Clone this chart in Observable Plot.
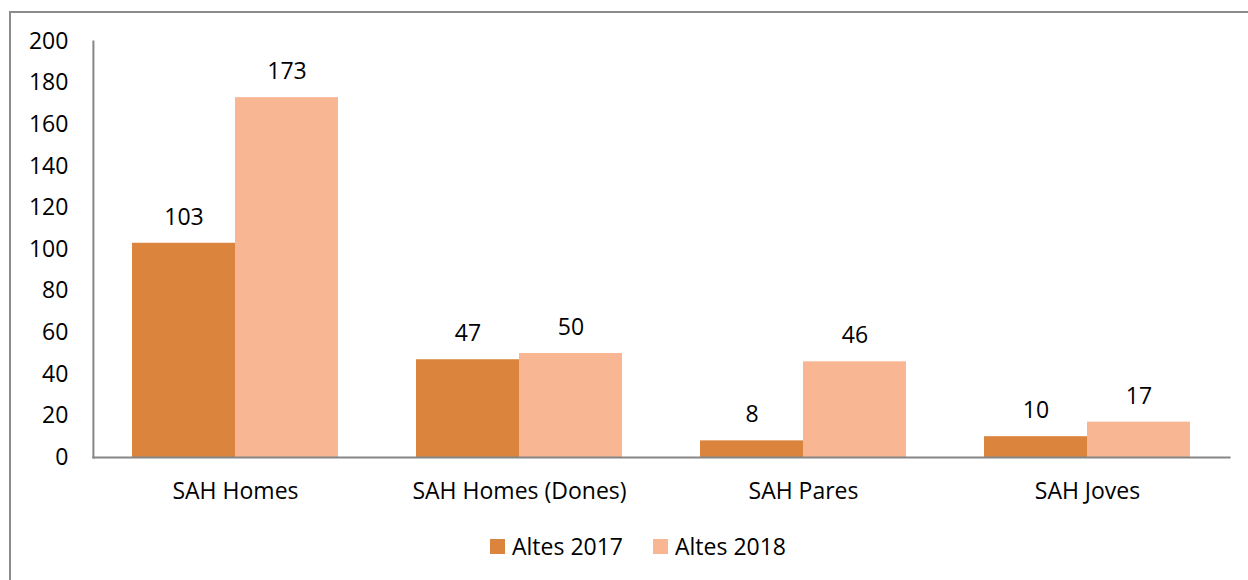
<!DOCTYPE html>
<html>
<head>
<meta charset="utf-8">
<script src="https://cdn.jsdelivr.net/npm/d3@7"></script>
<script src="https://cdn.jsdelivr.net/npm/@observablehq/plot@0.6"></script>
<style>
  html, body { margin: 0; padding: 0; background: #fff; }
  #wrap { position: relative; width: 1248px; height: 580px; overflow: hidden; font-family: "Open Sans", sans-serif; }
  #border { position: absolute; left: 9px; top: 11px; width: 1300px; height: 700px; border: 2px solid #8c8c8c; box-sizing: border-box; }
  #chart { position: absolute; left: 0; top: 0; }
  #legend { position: absolute; left: 490px; top: 530px; display: flex; align-items: center; font-size: 23px; color: #000; }
  #legend .item { display: flex; align-items: center; margin-right: 30px; }
  #legend .sw { width: 15px; height: 15px; margin-right: 7px; }
</style>
</head>
<body>
<div id="wrap">
  <div id="border"></div>
  <div id="chart"></div>
  <div id="legend"></div>
</div>
<script>
const categories = ["SAH Homes", "SAH Homes (Dones)", "SAH Pares", "SAH Joves"];
const seriesNames = ["Altes 2017", "Altes 2018"];
const altes2017 = [103, 47, 8, 10];
const altes2018 = [173, 50, 46, 17];
const colors = ["#DB843D", "#F9B693"];
const yTicks = [0, 20, 40, 60, 80, 100, 120, 140, 160, 180, 200];

const data = [];
categories.forEach((c, i) => {
  data.push({category: c, series: seriesNames[0], value: altes2017[i]});
  data.push({category: c, series: seriesNames[1], value: altes2018[i]});
});

// outer gap between plot edge and first/last facet
const W = 1248, ML = 92, MR = 19;
const step = (W - ML - MR) / categories.length;
const outer = step * 0.1375;

const chart = Plot.plot({
  width: W,
  height: 520,
  marginLeft: ML,
  marginRight: MR,
  marginTop: 41,
  marginBottom: 63,
  style: {fontFamily: "'Open Sans', sans-serif", fontSize: "23px", color: "#000", background: "transparent"},
  fx: {domain: categories, paddingInner: 0.275, paddingOuter: 0.1375, label: null, axis: null},
  x: {domain: seriesNames, padding: 0, axis: null},
  y: {domain: [0, 200], axis: null},
  color: {domain: seriesNames, range: colors},
  marks: [
    Plot.barY(data, {fx: "category", x: "series", y: "value", fill: "series"}),
    Plot.text(data, {fx: "category", x: "series", y: "value", text: d => String(d.value), dy: -26, fill: "#000", fontSize: 23}),
    Plot.axisFx({anchor: "bottom", tickSize: 0, tickPadding: 25, fontSize: 23, label: null}),
    Plot.axisY({ticks: yTicks, tickSize: 0, tickPadding: 25 + outer, fontSize: 23, label: null}),
    Plot.frame({anchor: "left", stroke: "#868686", strokeWidth: 2, facet: "super", insetLeft: -outer}),
    Plot.frame({anchor: "bottom", stroke: "#868686", strokeWidth: 2, facet: "super", insetLeft: -outer, insetRight: -outer})
  ]
});
document.getElementById("chart").appendChild(chart);

const legend = document.getElementById("legend");
seriesNames.forEach((s, i) => {
  const item = document.createElement("div");
  item.className = "item";
  const sw = document.createElement("div");
  sw.className = "sw";
  sw.style.background = colors[i];
  const t = document.createElement("span");
  t.textContent = s;
  item.appendChild(sw);
  item.appendChild(t);
  legend.appendChild(item);
});
</script>
</body>
</html>
